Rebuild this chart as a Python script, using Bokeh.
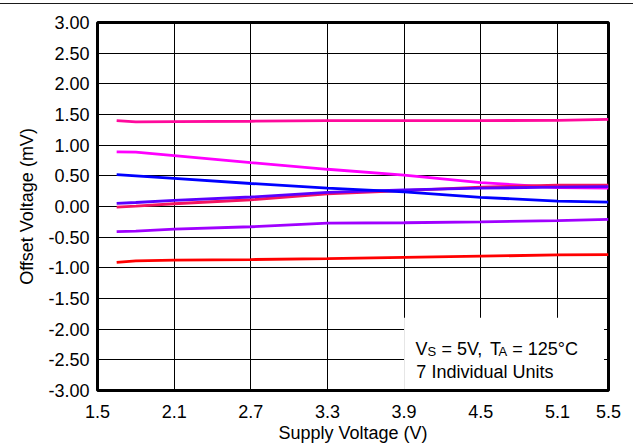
from bokeh.plotting import figure
from bokeh.models import FixedTicker, PrintfTickFormatter, BoxAnnotation, Label, Range1d, Div
from bokeh.layouts import column
from bokeh.embed import file_html
from bokeh.resources import INLINE

# Supply voltage (V)
supply_v = [1.65, 1.8, 2.1, 2.7, 3.3, 3.9, 4.5, 5.1, 5.5]

# Offset voltage (mV) of 7 individual units
unit1 = [1.40, 1.38, 1.385, 1.39, 1.40, 1.40, 1.40, 1.405, 1.42]
unit2 = [0.89, 0.885, 0.83, 0.715, 0.607, 0.51, 0.39, 0.31, 0.30]
unit3 = [-0.01, 0.005, 0.045, 0.11, 0.208, 0.26, 0.315, 0.35, 0.35]
unit4 = [0.05, 0.065, 0.10, 0.155, 0.23, 0.27, 0.30, 0.315, 0.325]
unit5 = [0.52, 0.50, 0.46, 0.375, 0.30, 0.24, 0.15, 0.087, 0.07]
unit6 = [-0.41, -0.40, -0.37, -0.33, -0.27, -0.265, -0.25, -0.23, -0.21]
unit7 = [-0.91, -0.885, -0.875, -0.865, -0.85, -0.83, -0.81, -0.79, -0.785]

units = [unit1, unit2, unit3, unit4, unit5, unit6, unit7]
colors = ["#ff0a9c", "#ff00ff", "#f5145f", "#5a00ff", "#0000ff", "#a000ff", "#ff0000"]

x_ticks = [1.5, 2.1, 2.7, 3.3, 3.9, 4.5, 5.1, 5.5]
y_ticks = [-3.0, -2.5, -2.0, -1.5, -1.0, -0.5, 0.0, 0.5, 1.0, 1.5, 2.0, 2.5, 3.0]

FONT = "Liberation Sans"

p = figure(width=633, height=443, output_backend="svg", toolbar_location=None,
           x_range=Range1d(1.5, 5.5), y_range=Range1d(-3.0, 3.0),
           min_border_left=97, min_border_right=25, min_border_top=18, min_border_bottom=57)

p.background_fill_color = "white"
p.border_fill_color = "white"
p.outline_line_color = "black"
p.outline_line_width = 3

for ax in (p.xaxis[0], p.yaxis[0]):
    ax.axis_line_color = None
    ax.major_tick_line_color = None
    ax.minor_tick_line_color = None
    ax.major_tick_in = 0
    ax.major_tick_out = 0
    ax.minor_tick_in = 0
    ax.minor_tick_out = 0
    ax.major_label_text_font = FONT
    ax.major_label_text_font_size = "18px"
    ax.major_label_text_color = "black"
    ax.axis_label_text_font = FONT
    ax.axis_label_text_font_size = "18px"
    ax.axis_label_text_font_style = "normal"
    ax.axis_label_text_color = "black"

p.xaxis.ticker = FixedTicker(ticks=x_ticks)
p.yaxis.ticker = FixedTicker(ticks=y_ticks)
p.yaxis.formatter = PrintfTickFormatter(format="%.2f")
p.xaxis.axis_label = "Supply Voltage (V)"
p.yaxis.axis_label = "Offset Voltage (mV)"
p.xaxis.major_label_standoff = 14
p.xaxis.axis_label_standoff = 2
p.yaxis.major_label_standoff = 8
p.yaxis.axis_label_standoff = 8

p.xgrid.ticker = FixedTicker(ticks=x_ticks)
p.ygrid.ticker = FixedTicker(ticks=y_ticks)
for g in (p.xgrid[0], p.ygrid[0]):
    g.grid_line_color = "black"
    g.grid_line_width = 1
    g.grid_line_alpha = 1.0

for vals, c in zip(units, colors):
    p.line(supply_v, vals, line_color=c, line_width=2.8)

p.add_layout(BoxAnnotation(left=3.9, right=5.465, top=-1.815, bottom=-2.975,
                           fill_color="white", fill_alpha=1.0, line_color=None))

def lab(x, y, t, size):
    p.add_layout(Label(x=x, y=y, text=t, text_font=FONT, text_font_size=size,
                       text_color="black", text_baseline="alphabetic", text_align="left"))

lab(3.990, -2.327, "V", "18px")
lab(4.084, -2.369, "S", "13px")
lab(4.192, -2.327, "= 5V,", "18px")
lab(4.573, -2.327, "T", "18px")
lab(4.639, -2.369, "A", "13px")
lab(4.746, -2.327, "= 125°C", "18px")
lab(3.996, -2.695, "7 Individual Units", "18px")

# thin separator rule at the very top of the page
rule = Div(text="", width=633, height=4, margin=0,
           styles={"border-bottom": "1.5px solid #1a1a1a", "box-sizing": "border-box"})

layout = column(rule, p, spacing=0, margin=0)

open("out.html", "w").write(file_html(layout, INLINE))
